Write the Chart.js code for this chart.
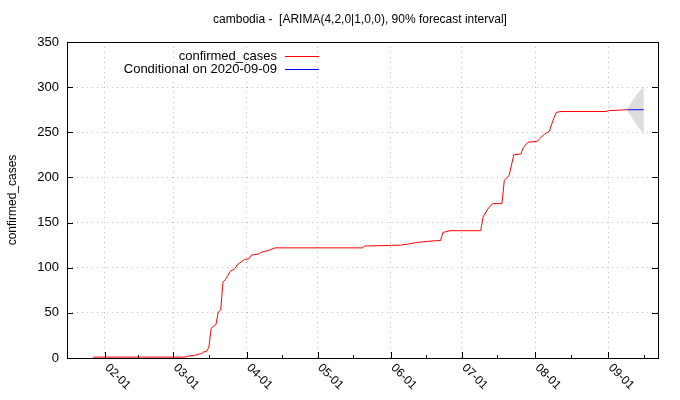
<!DOCTYPE html>
<html>
<head>
<meta charset="utf-8">
<script src="https://cdn.jsdelivr.net/npm/chart.js@4"></script>
<style>
  html, body { margin: 0; padding: 0; background: #fff; }
  #wrap { width: 680px; height: 400px; }
</style>
</head>
<body>
<div id="wrap"><canvas id="chart" width="680" height="400"></canvas></div>
<script>
const caseDates = ['2020-01-27','2020-03-06','2020-03-07','2020-03-10','2020-03-13','2020-03-14','2020-03-15','2020-03-16','2020-03-17','2020-03-18','2020-03-19','2020-03-20','2020-03-21','2020-03-22','2020-03-23','2020-03-24','2020-03-25','2020-03-27','2020-03-28','2020-03-30','2020-03-31','2020-04-02','2020-04-03','2020-04-06','2020-04-07','2020-04-10','2020-04-11','2020-04-13','2020-05-20','2020-05-21','2020-06-05','2020-06-08','2020-06-12','2020-06-20','2020-06-22','2020-06-23','2020-06-26','2020-07-09','2020-07-10','2020-07-12','2020-07-14','2020-07-18','2020-07-19','2020-07-21','2020-07-23','2020-07-26','2020-07-27','2020-07-29','2020-08-02','2020-08-03','2020-08-05','2020-08-07','2020-08-09','2020-08-10','2020-08-12','2020-08-31','2020-09-01','2020-09-09'];
const caseValues = [1,1,2,3,5,7,7,12,33,35,37,51,53,84,87,91,96,99,103,107,109,110,114,115,117,119,120,122,122,124,125,126,128,130,130,139,141,141,156,165,171,171,197,202,225,226,233,239,240,243,248,251,266,272,273,273,274,275];

// forecast conditional on 2020-09-09
const fcDates = ['2020-09-09','2020-09-10','2020-09-11','2020-09-12','2020-09-13','2020-09-14','2020-09-15','2020-09-16'];
const fcMean  = [275,275,275,275,275,275,275,275];
const fcLower = [273,270,266,262,258,255,251,247];
const fcUpper = [277,280,284,288,292,295,298,300];

const monthTicks = ['2020-02-01','2020-03-01','2020-04-01','2020-05-01','2020-06-01','2020-07-01','2020-08-01','2020-09-01'];
const minorTicks = ['2020-01-16','2020-02-15','2020-03-16','2020-04-16','2020-05-16','2020-06-16','2020-07-16','2020-08-16','2020-09-16'];
const yTicks = [0,50,100,150,200,250,300,350];

const xMinDate = '2020-01-16', xMaxDate = '2020-09-22';

function doy(s) {
    return (Date.UTC(+s.slice(0,4), +s.slice(5,7) - 1, +s.slice(8,10)) - Date.UTC(2020,0,1)) / 86400000 + 1;
}
const pts = (ds, vs) => ds.map((d, i) => ({ x: doy(d), y: vs[i] }));

const FONT = '"Liberation Sans", Arial, sans-serif';

// frame, ticks, rotated date labels, title and legend, gnuplot style
const gnuplotBits = {
    id: 'gnuplotBits',
    afterDraw(chart) {
        const { ctx, chartArea: a, scales: { x, y } } = chart;
        ctx.save();
        ctx.strokeStyle = '#000';
        ctx.lineWidth = 1;
        ctx.strokeRect(a.left + 0.5, a.top + 0.5, a.right - a.left, a.bottom - a.top);
        ctx.beginPath();
        yTicks.forEach(v => {
            const py = Math.round(y.getPixelForValue(v)) + 0.5;
            ctx.moveTo(a.left, py); ctx.lineTo(a.left + 6, py);
            ctx.moveTo(a.right, py); ctx.lineTo(a.right - 6, py);
        });
        monthTicks.forEach(d => {
            const px = Math.round(x.getPixelForValue(doy(d))) + 0.5;
            ctx.moveTo(px, a.bottom); ctx.lineTo(px, a.bottom - 6);
        });
        minorTicks.forEach(d => {
            const px = Math.round(x.getPixelForValue(doy(d))) + 0.5;
            ctx.moveTo(px, a.bottom); ctx.lineTo(px, a.bottom - 3);
        });
        ctx.stroke();

        ctx.fillStyle = '#000';
        ctx.font = '12px ' + FONT;
        monthTicks.forEach(d => {
            const px = x.getPixelForValue(doy(d));
            ctx.save();
            ctx.translate(px + 2, a.bottom + 8);
            ctx.rotate(Math.PI / 4);
            ctx.textAlign = 'left';
            ctx.textBaseline = 'middle';
            ctx.fillText(d.slice(5), 0, 0);
            ctx.restore();
        });

        ctx.textAlign = 'center';
        ctx.textBaseline = 'middle';
        ctx.fillText('cambodia -  [ARIMA(4,2,0|1,0,0), 90% forecast interval]', 360, 20);

        ctx.save();
        ctx.translate(13, 200);
        ctx.rotate(-Math.PI / 2);
        ctx.fillText('confirmed_cases', 0, 0);
        ctx.restore();

        ctx.textAlign = 'right';
        ctx.font = '13px ' + FONT;
        const legend = [['confirmed_cases', '#ff0000', 56], ['Conditional on 2020-09-09', '#0000ff', 69]];
        legend.forEach(([t, c, ly]) => {
            ctx.fillStyle = '#000';
            ctx.fillText(t, 277, ly);
            ctx.fillStyle = c;
            ctx.fillRect(285, ly, 34, 1);
        });
        ctx.restore();
    }
};

const gridOpts = { color: '#bbbbbb', drawTicks: false };
const borderOpts = { display: false, dash: [1, 4] };

new Chart(document.getElementById('chart'), {
    type: 'line',
    data: {
        datasets: [
            { data: pts(fcDates, fcLower), borderWidth: 0, pointRadius: 0, fill: false, borderColor: 'rgba(0,0,0,0)', order: 4 },
            { data: pts(fcDates, fcUpper), borderWidth: 0, pointRadius: 0, fill: '-1', backgroundColor: '#dddddd', borderColor: 'rgba(0,0,0,0)', order: 3 },
            { data: pts(caseDates, caseValues), borderColor: '#ff0000', borderWidth: 1, pointRadius: 0, tension: 0, order: 2 },
            { data: pts(fcDates, fcMean), borderColor: '#0000ff', borderWidth: 1, pointRadius: 0, tension: 0, order: 1 }
        ]
    },
    options: {
        responsive: false,
        animation: false,
        layout: { padding: { top: 42, right: 22, left: 0, bottom: 0 } },
        plugins: { legend: { display: false }, tooltip: { enabled: false } },
        scales: {
            x: {
                type: 'linear',
                min: doy(xMinDate), max: doy(xMaxDate),
                afterBuildTicks: s => { s.ticks = monthTicks.map(d => ({ value: doy(d) })); },
                afterFit: s => { s.height = 42; },
                ticks: { display: false },
                border: borderOpts,
                grid: gridOpts
            },
            y: {
                min: 0, max: 350,
                afterBuildTicks: s => { s.ticks = yTicks.map(v => ({ value: v })); },
                afterFit: s => { s.width = 67; },
                ticks: { color: '#000', font: { family: FONT, size: 13 }, padding: 8 },
                border: borderOpts,
                grid: gridOpts
            }
        }
    },
    plugins: [gnuplotBits]
});
</script>
</body>
</html>
